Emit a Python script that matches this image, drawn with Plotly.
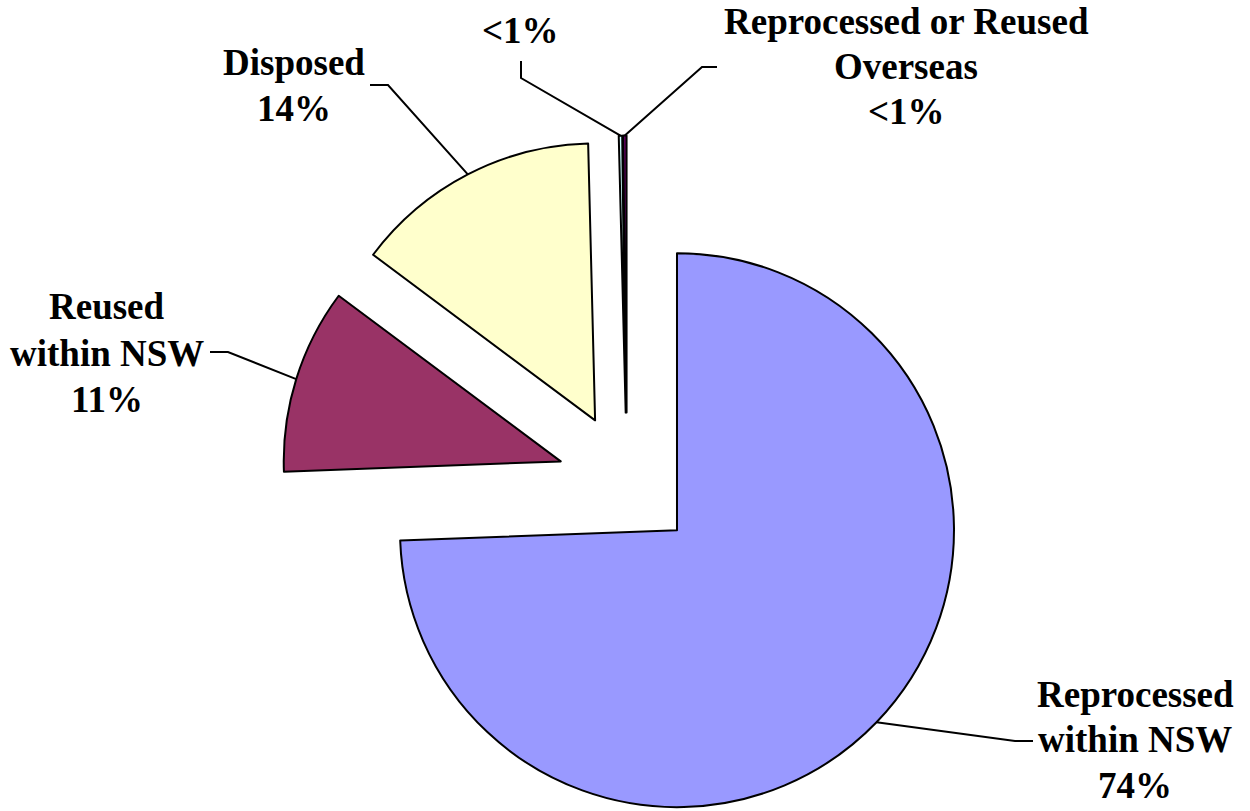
import math
import plotly.graph_objects as go

# ---- data ----
categories = ["Reprocessed within NSW", "Reused within NSW", "Disposed",
              "Other", "Reprocessed or Reused Overseas"]
values = [74.4, 10.8, 14.4, 0.2, 0.2]
pct_labels = ["74%", "11%", "14%", "<1%", "<1%"]
display_lines = [["Reprocessed", "within NSW"], ["Reused", "within NSW"], ["Disposed"],
                 [], ["Reprocessed or Reused", "Overseas"]]

# ---- style ----
colors = ["#9999FF", "#993366", "#FFFFCC", "#CCFFFF", "#660066"]
W, H = 1250, 811
CX, CY = 627.0, 482.0      # pie centre (px)
R = 277.0                  # radius (px)
PULL_PX = 69.4             # explosion distance (px)
FONT_SIZE = 37
FONT = dict(family="Liberation Serif, Times New Roman, serif", size=FONT_SIZE,
            color="black", weight="bold")

# label layout: text centre x (px) and baselines of each line (px)
label_x = [1135, 107, 294, 520, 906]
label_baselines = [[707, 752, 798], [319, 366, 412], [75, 120.5], [43], [33.5, 78.5, 123.5]]
leader_starts = [(1033, 741), (210, 352), (370, 85), (521, 61), (717, 67)]
leader_elbows = [(1015, 741), (228, 352), (388, 85), (521, 78), (702, 67)]


def to_paper(x, y):
    return x / W, 1 - y / H


total = sum(values)
fig = go.Figure()
shapes = []
annotations = []
cum = 0.0
for i, v in enumerate(values):
    mid = math.radians(360.0 * (cum + v / 2.0) / total)
    cum += v
    dx, dy = math.sin(mid), -math.cos(mid)
    cx, cy = CX + PULL_PX * dx, CY + PULL_PX * dy
    slice_colors = [colors[j] if j == i else "rgba(0,0,0,0)" for j in range(len(values))]
    slice_widths = [2 if j == i else 0 for j in range(len(values))]
    fig.add_trace(go.Pie(
        labels=categories, values=values, sort=False, direction="clockwise",
        rotation=0, textinfo="none", hoverinfo="skip", showlegend=False,
        marker=dict(colors=slice_colors, line=dict(color="black", width=slice_widths)),
        domain=dict(x=[(cx - R) / W, (cx + R) / W],
                    y=[(H - cy - R) / H, (H - cy + R) / H]),
    ))
    # leader line: label side -> elbow -> slice edge at mid-angle
    ax, ay = cx + R * dx, cy + R * dy
    pts = [to_paper(*leader_starts[i]), to_paper(*leader_elbows[i]), to_paper(ax, ay)]
    path = "M {} {} L {} {} L {} {}".format(pts[0][0], pts[0][1], pts[1][0], pts[1][1],
                                            pts[2][0], pts[2][1])
    shapes.append(dict(type="path", xref="paper", yref="paper", path=path,
                       line=dict(color="black", width=2)))
    # label, one annotation per line
    lines = display_lines[i] + [pct_labels[i]]
    for text, base in zip(lines, label_baselines[i]):
        lx, ly = to_paper(label_x[i], base - 0.3375 * FONT_SIZE)
        annotations.append(dict(x=lx, y=ly, xref="paper", yref="paper", text=text,
                                showarrow=False, xanchor="center", yanchor="middle",
                                align="center", font=FONT, borderpad=0))

fig.update_layout(width=W, height=H, margin=dict(l=0, r=0, t=0, b=0),
                  paper_bgcolor="white", plot_bgcolor="white",
                  shapes=shapes, annotations=annotations, showlegend=False)
fig.write_html("out.html", config={"displayModeBar": False},
               post_script="document.body.style.margin='0';document.body.style.overflow='hidden';")
